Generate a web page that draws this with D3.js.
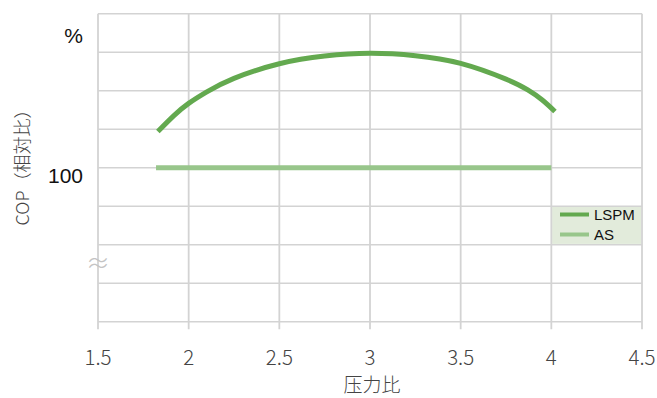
<!DOCTYPE html>
<html><head><meta charset="utf-8">
<script src="https://cdn.jsdelivr.net/npm/d3@7"></script>
<style>body{margin:0;background:#fff}svg{display:block}</style>
</head><body>
<svg id="c" width="657" height="398"></svg>
<script>
const xTicks = [1.5, 2, 2.5, 3, 3.5, 4, 4.5];
const xTickLabels = ["1.5", "2", "2.5", "3", "3.5", "4", "4.5"];
const yGrid = [96, 97, 98, 99, 100, 101, 102, 103, 104];
const lspmX = [1.83, 1.92, 2.0, 2.1, 2.25, 2.5, 2.75, 3.0, 3.25, 3.5, 3.75, 3.87, 3.95, 4.02];
const lspmY = [100.94, 101.36, 101.67, 101.97, 102.32, 102.70, 102.90, 102.97, 102.91, 102.71, 102.30, 102.02, 101.76, 101.46];
const asX = [1.82, 4.0];
const asY = [100, 100];
const seriesNames = ["LSPM", "AS"];
const xTitle = "压力比";
const yTitle = "COP（相対比）";

const svg = d3.select("#c");
const x = d3.scaleLinear().domain([1.5, 4.5]).range([98, 642]);
const y = d3.scaleLinear().domain([96, 104]).range([321.7, 13.7]);
const grid = "#d3d3d3";

// horizontal gridlines
svg.append("g").selectAll("line").data(yGrid).join("line")
  .attr("x1", x(1.5)).attr("x2", x(4.5))
  .attr("y1", d => y(d)).attr("y2", d => y(d))
  .attr("stroke", grid).attr("stroke-width", 1.6);

// legend background (occupies a grid cell)
svg.append("rect")
  .attr("x", x(4) + 0.8).attr("y", y(99) + 0.8)
  .attr("width", x(4.5) - x(4) - 1.6).attr("height", y(98) - y(99) - 1.6)
  .attr("fill", "#e2ebdb");

// vertical gridlines with tick extension below
svg.append("g").selectAll("line").data(xTicks).join("line")
  .attr("x1", d => x(d)).attr("x2", d => x(d))
  .attr("y1", y(104)).attr("y2", y(96) + 7.5)
  .attr("stroke", grid).attr("stroke-width", 1.8);

// x tick labels
svg.append("g").selectAll("text").data(xTicks).join("text")
  .attr("x", d => x(d)).attr("y", 365)
  .attr("text-anchor", "middle")
  .attr("font-family", "'Noto Sans CJK JP', 'Noto Sans', sans-serif")
  .attr("font-weight", 300).attr("font-size", 20.5).attr("fill", "#444")
  .text((d, i) => xTickLabels[i]);

// y labels
svg.append("text").attr("x", 83).attr("y", 183)
  .attr("text-anchor", "end").attr("font-family", "'Liberation Sans', Arial, sans-serif")
  .attr("font-size", 21).attr("fill", "#111").text("100");
svg.append("text").attr("x", 83).attr("y", 43)
  .attr("text-anchor", "end").attr("font-family", "'Liberation Sans', Arial, sans-serif")
  .attr("font-size", 21).attr("fill", "#111").text("%");

// axis break
svg.append("text").attr("x", 98).attr("y", 272)
  .attr("text-anchor", "middle").attr("font-family", "'Noto Sans CJK JP', sans-serif")
  .attr("font-weight", 300).attr("font-size", 24).attr("fill", "#c4c4c4").text("≈");

// titles
svg.append("text").attr("x", 372).attr("y", 392)
  .attr("text-anchor", "middle")
  .attr("font-family", "'Noto Sans CJK JP', sans-serif")
  .attr("font-weight", 300).attr("font-size", 19).attr("fill", "#444").text(xTitle);
svg.append("text")
  .attr("transform", "translate(29,163) rotate(-90)")
  .attr("text-anchor", "middle")
  .attr("font-family", "'Noto Sans CJK JP', sans-serif")
  .attr("font-weight", 300).attr("font-size", 18).attr("fill", "#444").text(yTitle);

// series
const line = d3.line().x(d => x(d[0])).y(d => y(d[1])).curve(d3.curveNatural);
svg.append("path").datum(asX.map((v, i) => [v, asY[i]]))
  .attr("d", d3.line().x(d => x(d[0])).y(d => y(d[1])))
  .attr("fill", "none").attr("stroke", "#98c68b").attr("stroke-width", 5);
svg.append("path").datum(lspmX.map((v, i) => [v, lspmY[i]]))
  .attr("d", line)
  .attr("fill", "none").attr("stroke", "#63a94f").attr("stroke-width", 5);

// legend
const lg = svg.append("g");
const legColors = ["#63a94f", "#98c68b"];
seriesNames.forEach((n, i) => {
  const yy = 214.5 + i * 20;
  lg.append("line").attr("x1", 560).attr("x2", 589).attr("y1", yy).attr("y2", yy)
    .attr("stroke", legColors[i]).attr("stroke-width", 4);
  lg.append("text").attr("x", 594).attr("y", yy + 5.5)
    .attr("font-family", "'Liberation Sans', Arial, sans-serif")
    .attr("font-size", 15).attr("fill", "#111").text(n);
});
</script>
</body></html>
